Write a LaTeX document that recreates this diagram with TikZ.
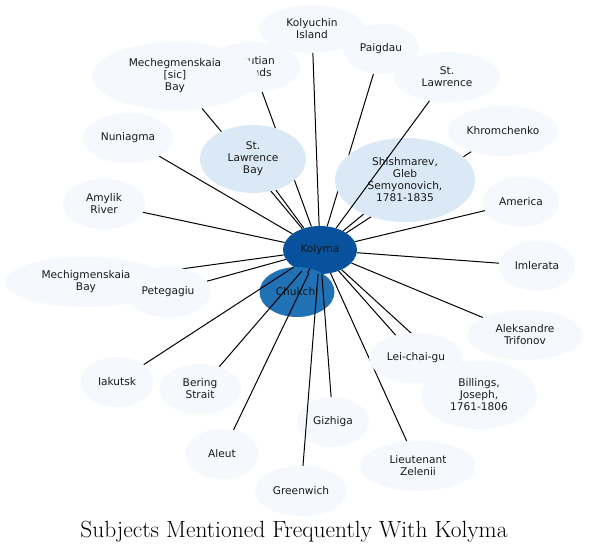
\documentclass[tikz,border=0pt]{standalone}
\usepackage{fontspec}
\newfontfamily\nodefont{DejaVu Sans}
\usepackage{tikz}
\usetikzlibrary{shapes.geometric, backgrounds}

\definecolor{kolymablue}{RGB}{8,81,156}
\definecolor{chukchiblue}{RGB}{33,113,181}
\definecolor{midblue}{RGB}{219,233,246}
\definecolor{paleblue}{RGB}{245,249,254}

\tikzset{dims/.style 2 args={minimum width=#1pt, minimum height=#2pt}}

\begin{document}
\begin{tikzpicture}[
    x=1pt, y=-1pt,
    font=\nodefont\fontsize{10.6}{12}\selectfont,
    topic/.style={ellipse, fill=paleblue, inner sep=0pt, align=center, text=black!90},
    midtopic/.style={topic, fill=midblue},
    hub/.style={topic, fill=kolymablue},
    link/.style={black, line width=1pt}
]
\useasboundingbox (0,0) rectangle (590,551);

\begin{scope}[on background layer]
\node[hub, dims={74}{48}] (kolyma) at (320,250) {Kolyma};
\node[hub, fill=chukchiblue, dims={75}{50}] (chukchi) at (297,292) {Chukchi};
\end{scope}

\node[topic, dims={106}{48}] (kolyuchin) at (312,29) {Kolyuchin\\Island};
\node[topic, dims={94}{50}] (aleutian) at (253,67) {Aleutian\\Islands};
\node[topic, dims={166}{68}] (mechegmenskaia) at (175,76) {Mechegmenskaia\\{[sic]}\\Bay};
\node[topic, dims={76}{50}] (paigdau) at (381,49) {Paigdau};
\node[topic, dims={106}{50}] (stlawrence) at (447,77) {St.\\Lawrence};
\node[topic, dims={110}{50}] (khromchenko) at (503,131) {Khromchenko};
\node[topic, dims={90}{50}] (nuniagma) at (128,138) {Nuniagma};
\node[midtopic, dims={106}{68}] (stlawrencebay) at (253,159) {St.\\Lawrence\\Bay};
\node[midtopic, dims={140}{84}] (shishmarev) at (405,180) {Shishmarev,\\Gleb\\Semyonovich,\\1781-1835};
\node[topic, dims={76}{50}] (america) at (521,202) {America};
\node[topic, dims={82}{50}] (amylik) at (104,204) {Amylik\\River};
\node[topic, dims={162}{50}] (mechigmenskaia) at (86,282) {Mechigmenskaia\\Bay};
\node[topic, dims={86}{50}] (petegagiu) at (168,292) {Petegagiu};
\node[topic, dims={76}{50}] (imlerata) at (537,266) {Imlerata};
\node[topic, dims={116}{50}] (trifonov) at (525,335) {Aleksandre\\Trifonov};
\node[topic, dims={116}{68}] (billings) at (479,395) {Billings,\\Joseph,\\1761-1806};
\node[topic, dims={94}{50}] (leichaigu) at (416,358) {Lei-chai-gu};
\node[topic, dims={73}{50}] (iakutsk) at (117,382) {Iakutsk};
\node[topic, dims={82}{50}] (bering) at (200,389) {Bering\\Strait};
\node[topic, dims={72}{50}] (gizhiga) at (333,422) {Gizhiga};
\node[topic, dims={73}{50}] (aleut) at (222,454) {Aleut};
\node[topic, dims={116}{50}] (zelenii) at (418,466) {Lieutenant\\Zelenii};
\node[topic, dims={92}{50}] (greenwich) at (301,491) {Greenwich};

\node[font=\rmfamily\fontsize{23.4}{27}\selectfont, anchor=base] (title) at (294,537) {Subjects Mentioned Frequently With Kolyma};

\begin{scope}[on background layer]
\draw[link] (kolyma) -- (chukchi);
\draw[link] (kolyma) -- (kolyuchin);
\draw[link] (kolyma) -- (aleutian);
\draw[link] (kolyma) -- (mechegmenskaia);
\draw[link] (kolyma) -- (paigdau);
\draw[link] (kolyma) -- (khromchenko);
\draw[link] (kolyma) -- (nuniagma);
\draw[link] (kolyma) -- (stlawrencebay);
\draw[link] (kolyma) -- (shishmarev);
\draw[link] (kolyma) -- (america);
\draw[link] (kolyma) -- (amylik);
\draw[link] (kolyma) -- (mechigmenskaia);
\draw[link] (kolyma) -- (petegagiu);
\draw[link] (kolyma) -- (imlerata);
\draw[link] (kolyma) -- (trifonov);
\draw[link] (kolyma) -- (billings);
\draw[link] (kolyma) -- (leichaigu);
\draw[link] (kolyma) -- (iakutsk);
\draw[link] (kolyma) -- (bering);
\draw[link] (kolyma) -- (gizhiga);
\draw[link] (kolyma) -- (aleut);
\draw[link] (kolyma) -- (zelenii);
\end{scope}
\draw[link] (kolyma) -- (stlawrence);
\draw[link] (kolyma) -- (greenwich);

\end{tikzpicture}
\end{document}
